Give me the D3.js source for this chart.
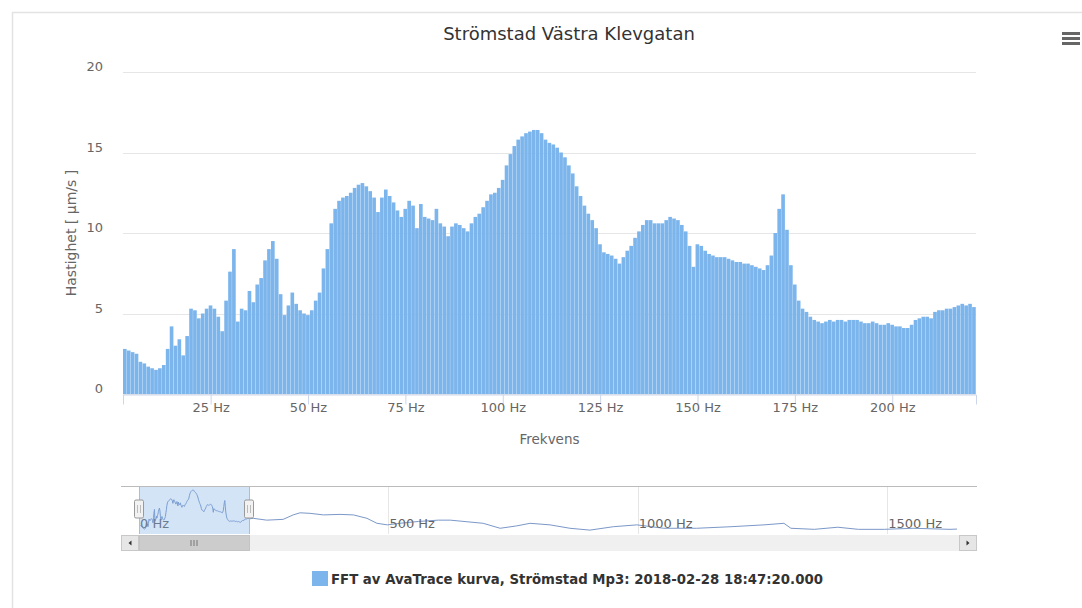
<!DOCTYPE html>
<html><head><meta charset="utf-8">
<script src="https://cdn.jsdelivr.net/npm/d3@7/dist/d3.min.js"></script>
<style>
body{margin:0;background:#fff;}
svg{display:block;font-family:"DejaVu Sans",sans-serif;}
</style>
</head><body>
<svg id="c" width="1082" height="608"></svg>
<script>
// ---------- data ----------
const chartTitle = "Strömstad Västra Klevgatan";
const seriesName = "FFT av AvaTrace kurva, Strömstad Mp3: 2018-02-28 18:47:20.000";
const yAxisTitle = "Hastighet [ µm/s ]";
const xAxisTitle = "Frekvens";

// FFT bins, 1 Hz apart, 3 Hz .. 221 Hz
const frequencies = d3.range(3, 222);
const values = [
 2.8,2.7,2.6,2.5,2.0,1.9,1.7,1.6,1.5,1.6,
 1.8,2.8,4.2,3.0,3.4,2.4,3.6,5.3,5.2,4.7,
 5.0,5.3,5.5,5.3,4.8,3.9,5.8,7.6,9.0,4.5,
 5.3,5.2,6.4,5.7,6.8,7.2,8.3,9.0,9.5,8.4,
 6.2,4.9,5.5,6.3,5.6,5.2,5.0,4.9,5.2,5.8,
 6.3,7.8,9.0,10.6,11.5,12.0,12.2,12.3,12.5,12.8,
 13.0,13.1,12.9,12.6,12.2,11.3,12.2,12.7,12.3,11.9,
 11.4,11.0,11.5,12.0,11.7,10.3,11.8,11.0,10.9,10.8,
 11.5,10.6,10.4,9.8,10.4,10.6,10.5,10.3,10.1,10.6,
 11.0,11.2,11.6,12.0,12.4,12.5,12.8,13.3,14.2,14.9,
 15.4,15.8,16.0,16.2,16.3,16.4,16.4,16.2,15.8,15.6,
 15.5,15.3,15.0,14.7,14.2,13.7,12.9,12.3,11.7,11.2,
 10.8,10.3,9.3,8.8,8.7,8.6,8.4,8.1,8.5,8.9,
 9.2,9.7,10.1,10.5,10.8,10.8,10.6,10.6,10.6,10.8,
 11.0,10.9,10.8,10.5,10.1,9.2,7.9,9.3,9.2,8.9,
 8.7,8.6,8.5,8.5,8.5,8.4,8.3,8.2,8.2,8.1,
 8.1,8.0,7.9,7.8,7.7,8.0,8.6,10.0,11.5,12.4,
 10.2,8.0,6.8,5.8,5.3,5.1,4.8,4.6,4.5,4.4,
 4.5,4.6,4.5,4.6,4.6,4.5,4.6,4.6,4.6,4.5,
 4.4,4.4,4.5,4.4,4.3,4.3,4.4,4.3,4.2,4.2,
 4.1,4.1,4.3,4.6,4.7,4.8,4.8,4.7,5.1,5.2,
 5.2,5.3,5.3,5.4,5.5,5.6,5.5,5.6,5.4
];

// navigator overview beyond the zoomed range (Hz / µm/s)
const navFreqs  = [229,256,289,309,323,343,370,403,430,457,477,498,523,560,600,624,690,724,757,784,824,864,904,951,998,1052,1118,1187,1253,1293,1307,1354,1401,1442,1494,1552,1626,1640];
const navValues = [5.6,4.9,5.2,6.9,7.7,7.5,6.9,7.1,6.9,5.6,3.7,3.1,3.7,4.4,4.9,4.9,3.7,1.8,2.7,3.7,3.1,1.8,1.1,2.4,3.1,1.8,1.8,2.4,3.1,3.7,1.8,1.4,2.2,1.4,1.4,1.8,1.4,1.5];

const xTicks = [25,50,75,100,125,150,175,200];
const yTicks = [0,5,10,15,20];
const navTicks = [0,500,1000,1500];
const xExtent = [2.5, 221.5];
const navExtent = [0, 1650];

// ---------- drawing ----------
const svg = d3.select("#c");
const barColor = "#7cb5ec";

// container border
svg.append("path").attr("d","M12.5,608V12.5H1082").attr("fill","none").attr("stroke","#e3e3e3").attr("stroke-width",1.5);

const x = d3.scaleLinear().domain(xExtent).range([123, 976]);
const y = d3.scaleLinear().domain([0, 20]).range([394, 72]);

// title
svg.append("text").attr("x",569).attr("y",40).attr("text-anchor","middle")
  .attr("font-size",18).attr("fill","#333").text(chartTitle);

// hamburger
[32,37,42].forEach(yy=>svg.append("rect").attr("x",1062).attr("y",yy).attr("width",18).attr("height",3).attr("fill","#666"));

// grid
svg.append("g").selectAll("line").data(yTicks).join("line")
  .attr("x1",123).attr("x2",976).attr("y1",d=>Math.round(y(d))+0.5).attr("y2",d=>Math.round(y(d))+0.5)
  .attr("stroke","#e6e6e6");

// y labels
svg.append("g").selectAll("text").data(yTicks).join("text")
  .attr("x",103).attr("y",d=>y(d)-1).attr("text-anchor","end")
  .attr("font-size",13).attr("fill","#666").text(d=>d);

// bars
const bw = x(1) - x(0);
svg.append("g").selectAll("rect").data(frequencies).join("rect")
  .attr("x",d=>x(d-0.5)).attr("width",bw-0.25)
  .attr("y",(d,i)=>y(values[i])).attr("height",(d,i)=>y(0)-y(values[i]))
  .attr("fill",barColor);

// x axis
const xAxis = d3.axisBottom(x).tickValues(xTicks).tickSize(10).tickFormat(d=>d+" Hz");
const gx = svg.append("g").attr("transform","translate(0,394.5)").call(xAxis);
gx.select(".domain").attr("stroke","#ccd6eb");
gx.selectAll(".tick line").attr("stroke","#ccd6eb");
gx.selectAll(".tick text").attr("font-size",13).attr("fill","#666").attr("font-family","DejaVu Sans").attr("dy","0.3em").attr("y",14);

svg.append("text").attr("x",549.5).attr("y",444).attr("text-anchor","middle")
  .attr("font-size",13.5).attr("fill","#666").text(xAxisTitle);
svg.append("text").attr("transform","translate(76,233) rotate(-90)").attr("text-anchor","middle")
  .attr("font-size",14).attr("fill","#666").text(yAxisTitle);

// ---------- navigator ----------
const navX = d3.scaleLinear().domain(navExtent).range([139, 962]);
const navY = d3.scaleLinear().domain([0, 16.4]).range([533, 490]);
const navTop = 486, navBottom = 534;

svg.append("g").selectAll("line").data(navTicks.slice(1)).join("line")
  .attr("x1",d=>Math.round(navX(d))+0.5).attr("x2",d=>Math.round(navX(d))+0.5)
  .attr("y1",navTop).attr("y2",navBottom).attr("stroke","#e6e6e6");

const navData = frequencies.map((f,i)=>[f,values[i]]).concat(navFreqs.map((f,i)=>[f,navValues[i]]));
svg.append("path").datum(navData)
  .attr("d", d3.line().x(d=>navX(d[0])).y(d=>navY(d[1])))
  .attr("fill","none").attr("stroke","#7b98c8").attr("stroke-width",1);

svg.append("g").selectAll("text").data(navTicks).join("text")
  .attr("x",d=>navX(d)+1).attr("y",528).attr("font-size",13).attr("fill","#666")
  .text(d=>d+" Hz");

const s0 = navX(xExtent[0]) - 1, s1 = navX(xExtent[1]);
svg.append("rect").attr("x",s0).attr("y",navTop).attr("width",s1-s0).attr("height",navBottom-navTop)
  .attr("fill","rgba(120,170,230,0.32)");

// outline
svg.append("path").attr("d",`M121,${navTop+0.5}H977M${Math.round(s0)+0.5},${navTop}V${navBottom}M${Math.round(s1)+0.5},${navTop}V${navBottom}`)
  .attr("fill","none").attr("stroke","#bbb").attr("stroke-width",1);

// handles
[s0, s1].forEach(hx=>{
  const g = svg.append("g").attr("transform",`translate(${Math.round(hx)},509)`);
  g.append("rect").attr("x",-4.5).attr("y",-9).attr("width",9).attr("height",18).attr("rx",1.5)
    .attr("fill","#f2f2f2").attr("stroke","#999");
  g.append("path").attr("d","M-1.5,-4V4M1.5,-4V4").attr("stroke","#bbb");
});

// scrollbar
const sbY = 535, sbH = 16;
svg.append("rect").attr("x",121).attr("y",sbY).attr("width",856).attr("height",sbH).attr("fill","#f0f0f0");
svg.append("rect").attr("x",Math.round(s0)+0.5).attr("y",sbY+0.5).attr("width",Math.round(s1-s0)).attr("height",sbH-1)
  .attr("fill","#cccccc").attr("stroke","#c4c4c4");
const gc = (Math.round(s0)+Math.round(s1))/2;
svg.append("path").attr("d",`M${gc-3},${sbY+5}V${sbY+11}M${gc},${sbY+5}V${sbY+11}M${gc+3},${sbY+5}V${sbY+11}`).attr("stroke","#777");
// buttons
[[121.5,"L"],[959.5,"R"]].forEach(([bx,dir])=>{
  svg.append("rect").attr("x",bx).attr("y",sbY+0.5).attr("width",17).attr("height",sbH-1)
    .attr("fill","#e6e6e6").attr("stroke","#c8c8c8");
  const cx = bx+8.5, cy = sbY+8;
  const d = dir==="L" ? `M${cx+1.5},${cy-2.5}L${cx-1.5},${cy}L${cx+1.5},${cy+2.5}Z` : `M${cx-1.5},${cy-2.5}L${cx+1.5},${cy}L${cx-1.5},${cy+2.5}Z`;
  svg.append("path").attr("d",d).attr("fill","#333");
});

// legend
svg.append("rect").attr("x",312).attr("y",571).attr("width",16).attr("height",15).attr("fill",barColor);
svg.append("text").attr("x",331).attr("y",583.5).attr("font-size",13.3).attr("font-weight","bold")
  .attr("fill","#333").text(seriesName);
</script>
</body></html>
